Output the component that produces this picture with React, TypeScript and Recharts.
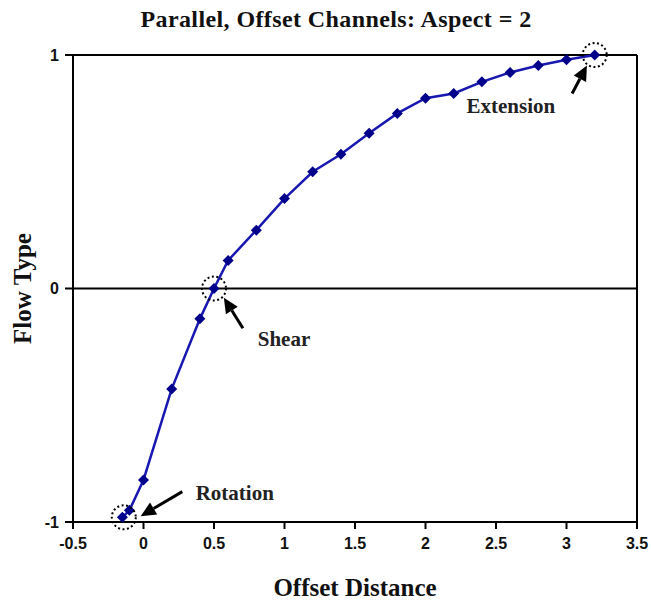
import React from "react";
import {
  LineChart,
  Line,
  XAxis,
  YAxis,
  ReferenceLine,
  ReferenceDot,
} from "recharts";

// offset distance vs flow type
const offsets = [-0.15, -0.1, 0, 0.2, 0.4, 0.5, 0.6, 0.8, 1.0, 1.2, 1.4, 1.6, 1.8, 2.0, 2.2, 2.4, 2.6, 2.8, 3.0, 3.2];
const flowType = [-0.98, -0.95, -0.82, -0.43, -0.13, 0, 0.12, 0.25, 0.385, 0.5, 0.575, 0.665, 0.75, 0.815, 0.835, 0.885, 0.925, 0.955, 0.98, 1.0];

const xTicks = [-0.5, 0, 0.5, 1, 1.5, 2, 2.5, 3, 3.5];
const yTicks = [-1, 0, 1];

// annotations: circled point, arrow tail -> tip, label
const circled = [
  { x: -0.14, y: -0.98 },
  { x: 0.5, y: 0 },
  { x: 3.2, y: 1 },
];
const arrows = [
  { from: { x: 0.275, y: -0.87 }, to: { x: -0.02, y: -0.975 } },
  { from: { x: 0.705, y: -0.17 }, to: { x: 0.57, y: -0.04 } },
  { from: { x: 3.04, y: 0.835 }, to: { x: 3.145, y: 0.955 } },
];
const notes = [
  { text: "Rotation", x: 0.37, y: -0.875, anchor: "start" },
  { text: "Shear", x: 0.81, y: -0.215, anchor: "start" },
  { text: "Extension", x: 2.92, y: 0.78, anchor: "end" },
];

const data = offsets.map((x, i) => ({ x, y: flowType[i] }));

const serif = "'Liberation Serif', 'Times New Roman', serif";
const sans = "'Liberation Sans', Arial, sans-serif";

const Diamond = (props: any) => {
  const { cx, cy } = props;
  if (cx == null || cy == null) return null;
  const s = 5.5;
  return (
    <polygon
      points={`${cx},${cy - s} ${cx + s},${cy} ${cx},${cy + s} ${cx - s},${cy}`}
      fill="#00008b"
    />
  );
};

const Arrow = (props: any) => {
  const { x1, y1, x2, y2 } = props;
  const dx = x2 - x1;
  const dy = y2 - y1;
  const len = Math.sqrt(dx * dx + dy * dy) || 1;
  const ux = dx / len;
  const uy = dy / len;
  const head = 15;
  const half = 7;
  const bx = x2 - ux * head;
  const by = y2 - uy * head;
  return (
    <g>
      <line x1={x1} y1={y1} x2={bx} y2={by} stroke="#000" strokeWidth={3} />
      <polygon
        points={`${x2},${y2} ${bx - uy * half},${by + ux * half} ${bx + uy * half},${by - ux * half}`}
        fill="#000"
      />
    </g>
  );
};

export default function App() {
  return (
    <div style={{ position: "absolute", left: 0, top: 0, width: 651, height: 602, background: "#fff" }}>
      <svg width={651} height={40} style={{ position: "absolute", left: 0, top: 0 }}>
        <text
          x={336}
          y={27}
          textAnchor="middle"
          fontFamily={serif}
          fontWeight="bold"
          fontSize={24}
          letterSpacing={0.4}
          fill="#111"
        >
          Parallel, Offset Channels: Aspect = 2
        </text>
      </svg>
      <LineChart
        width={651}
        height={602}
        data={data}
        margin={{ top: 55, right: 14, bottom: 0, left: 0 }}
        style={{ position: "absolute", left: 0, top: 0 }}
      >
        <XAxis
          type="number"
          dataKey="x"
          domain={[-0.5, 3.5]}
          ticks={xTicks}
          interval={0}
          height={80}
          stroke="#000"
          strokeWidth={2}
          tickSize={7}
          tickMargin={9}
          tick={{ fill: "#111", fontFamily: sans, fontWeight: "bold", fontSize: 16 }}
          label={{
            content: ({ viewBox }: any) => (
              <text
                x={viewBox.x + viewBox.width / 2}
                y={viewBox.y + 74}
                textAnchor="middle"
                fontFamily={serif}
                fontWeight="bold"
                fontSize={25}
                fill="#111"
              >
                Offset Distance
              </text>
            ),
          }}
        />
        <YAxis
          type="number"
          domain={[-1, 1]}
          ticks={yTicks}
          interval={0}
          width={73}
          stroke="#000"
          strokeWidth={2}
          tickSize={8}
          tickMargin={6}
          tick={{ fill: "#111", fontFamily: sans, fontWeight: "bold", fontSize: 16 }}
          label={{
            content: ({ viewBox }: any) => {
              const cx = viewBox.x + 31;
              const cy = viewBox.y + viewBox.height / 2;
              return (
                <text
                  x={cx}
                  y={cy}
                  transform={`rotate(-90 ${cx} ${cy})`}
                  textAnchor="middle"
                  fontFamily={serif}
                  fontWeight="bold"
                  fontSize={25}
                  fill="#111"
                >
                  Flow Type
                </text>
              );
            },
          }}
        />
        <ReferenceLine y={1} stroke="#000" strokeWidth={2} />
        <ReferenceLine y={0} stroke="#000" strokeWidth={2} />
        <ReferenceLine x={3.5} stroke="#000" strokeWidth={2} />
        <Line
          dataKey="y"
          stroke="#1818b0"
          strokeWidth={2.5}
          dot={<Diamond />}
          activeDot={false}
          isAnimationActive={false}
        />
        {circled.map((c, i) => (
          <ReferenceDot
            key={"c" + i}
            x={c.x}
            y={c.y}
            r={12}
            fill="none"
            stroke="#000"
            strokeWidth={2}
            strokeDasharray="2 2.5"
          />
        ))}
        {arrows.map((a, i) => (
          <ReferenceLine
            key={"a" + i}
            segment={[a.from, a.to]}
            ifOverflow="visible"
            shape={(p: any) => <Arrow {...p} />}
          />
        ))}
        {notes.map((n, i) => (
          <ReferenceDot
            key={"n" + i}
            x={n.x}
            y={n.y}
            r={1}
            shape={(p: any) => (
              <text
                x={p.cx}
                y={p.cy + 7}
                textAnchor={n.anchor as any}
                fontFamily={serif}
                fontWeight="bold"
                fontSize={21}
                fill="#222"
              >
                {n.text}
              </text>
            )}
          />
        ))}
      </LineChart>
    </div>
  );
}
